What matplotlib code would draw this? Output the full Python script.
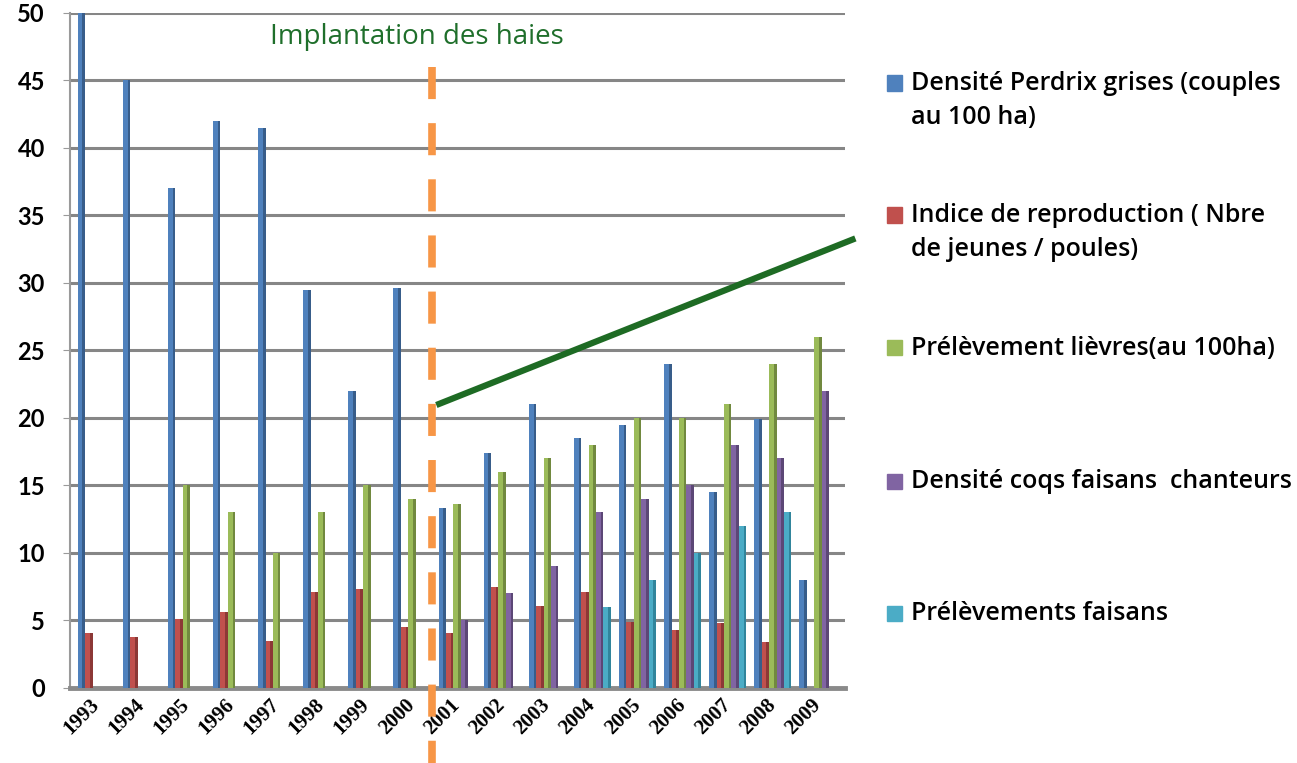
import matplotlib
matplotlib.use("Agg")
import matplotlib.pyplot as plt
from matplotlib.patches import Rectangle
import numpy as np

# donnees
annees = ['1993', '1994', '1995', '1996', '1997', '1998', '1999', '2000', '2001',
          '2002', '2003', '2004', '2005', '2006', '2007', '2008', '2009']
perdrix = [50, 45, 37, 42, 41.5, 29.5, 22, 29.6, 13.3, 17.4, 21, 18.5, 19.5, 24, 14.5, 19.9, 8]
reproduction = [4.1, 3.8, 5.1, 5.6, 3.5, 7.1, 7.3, 4.5, 4.1, 7.5, 6.1, 7.1, 4.9, 4.3, 4.8, 3.4, 0]
lievres = [0, 0, 15, 13, 10, 13, 15, 14, 13.6, 16, 17, 18, 20, 20, 21, 24, 26]
coqs = [0, 0, 0, 0, 0, 0, 0, 0, 5, 7, 9, 13, 14, 15, 18, 17, 22]
prelev_faisans = [0, 0, 0, 0, 0, 0, 0, 0, 0, 0, 0, 6, 8, 10, 12, 13, 0]

series = [perdrix, reproduction, lievres, coqs, prelev_faisans]
labels = ['Densité Perdrix grises (couples\nau 100 ha)',
          'Indice de reproduction ( Nbre\nde jeunes / poules)',
          'Prélèvement lièvres(au 100ha)',
          'Densité coqs faisans  chanteurs',
          'Prélèvements faisans']
couleurs = ['#4F81BD', '#C0504D', '#9BBB59', '#8064A2', '#4BACC6']
cotes = ['#385D8A', '#8C3836', '#71893F', '#5C4776', '#31859C']

fig = plt.figure(figsize=(12.97, 7.63), dpi=100)
ax = fig.add_axes([0.054, 0.0983, 0.5975, 0.8847])

x = np.arange(len(annees))
w = 0.164
for i, vals in enumerate(series):
    pos = x + (i - 2) * w
    ax.bar(pos, vals, width=w, color=couleurs[i], align='center', zorder=3)
    # faux effet 3D: bande sombre a droite
    ax.bar(pos + w * 0.32, vals, width=w * 0.36, color=cotes[i], align='center', zorder=3)

ax.set_xlim(-0.58, 16.6)
ax.set_ylim(0, 50)
ax.set_yticks(np.arange(0, 51, 5))
ax.yaxis.grid(True, color='#868686', linewidth=2.2, zorder=0)
ax.set_axisbelow(True)

for s in ['top', 'right']:
    ax.spines[s].set_visible(False)
ax.spines['left'].set_color('#9a9a9a')
ax.spines['left'].set_linewidth(1.5)
ax.spines['bottom'].set_color('#8a8a8a')
ax.spines['bottom'].set_linewidth(3.5)

ax.set_xticks(x)
ax.set_xticklabels(annees, rotation=45, ha='right', va='center', rotation_mode='anchor',
                   family='Liberation Serif', fontweight='bold', fontsize=15)
ax.tick_params(axis='x', length=0, pad=10)
ax.tick_params(axis='y', length=5, color='#9a9a9a', pad=13, labelsize=17)
for t in ax.get_yticklabels():
    t.set_family('Lato')
    t.set_fontweight('bold')

# ligne pointillee orange (implantation des haies)
ax.plot([7.45, 7.45], [46, -6.6], color='#F79646', linewidth=5.5, dashes=(4.2, 3.15),
        clip_on=False, zorder=5)
ax.text(7.1, 48.2, 'Implantation des haies', color='#1F6F2B', fontsize=20,
        family='Open Sans', ha='center', va='center')

# ligne verte de tendance
ax.plot([7.54, 16.83], [20.96, 33.3], color='#1E6B24', linewidth=4.5, clip_on=False,
        solid_capstyle='butt', zorder=5)

# legende manuelle
ypos = [83, 215, 348, 481, 613]
for i in range(len(series)):
    yf = 1 - ypos[i] / 763
    fig.patches.append(Rectangle((887 / 1297, yf - 7.5 / 763), 15 / 1297, 15 / 763,
                                 transform=fig.transFigure, color=couleurs[i]))
    fig.text(911 / 1297, yf + 12 / 763, labels[i], ha='left', va='top', fontsize=18,
             family='Open Sans', fontweight='semibold', linespacing=1.5)

fig.savefig('out.png', dpi=100)
